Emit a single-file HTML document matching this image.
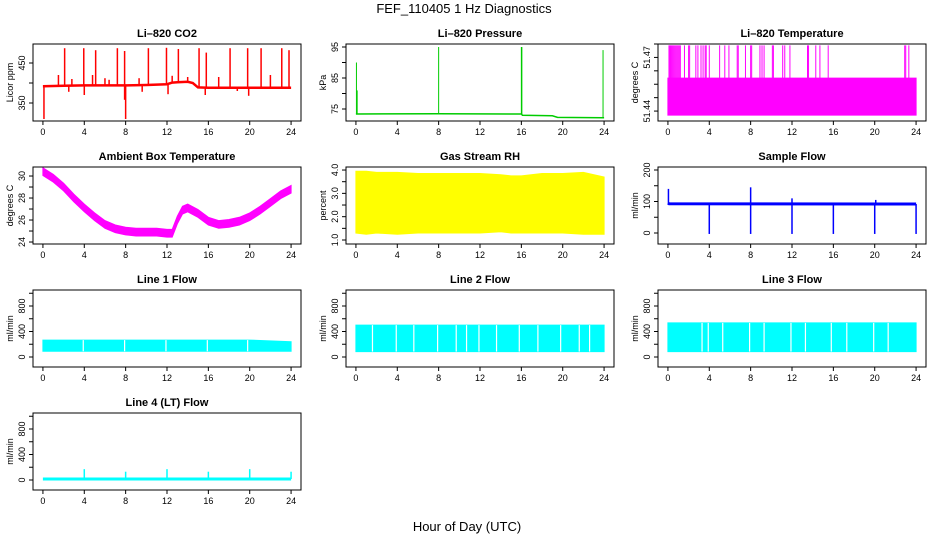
<!DOCTYPE html>
<html><head><meta charset="utf-8"><style>
html,body{margin:0;padding:0;background:#fff;}
svg{display:block;font-family:"Liberation Sans",sans-serif;}
</style></head><body>
<svg id="chart" width="936" height="540" viewBox="0 0 936 540">
<text x="464" y="13" text-anchor="middle" font-size="13">FEF_110405  1 Hz Diagnostics</text>
<text x="467" y="531" text-anchor="middle" font-size="13">Hour of Day (UTC)</text>
</svg>
<script>
// ---- data ----
const xTicks=[0,4,8,12,16,20,24];
// CO2
const co2Times=[0,2,4,6,8,10,12,12.5,13,14,14.5,15,16,18,20,22,24];
const co2Base=[392,393,394,394,394,395,397,401,402,403,400,389,388,388,388,388,388];
const co2SpikeTimes=[2.1,3.95,5.1,7.2,7.9,10.2,11.95,13.1,15.1,15.8,18.1,19.8,21.1,23.1,23.8,1.5,4.8,6.0,9.3,12.5,14.0,17.0,22.0,2.8,6.4];
const co2SpikeVals=[487,487,482,487,480,487,488,485,487,476,487,487,487,487,482,420,420,412,412,418,415,415,420,410,408];
const co2DipTimes=[0.1,8.0,7.9,4.0,19.9,15.7,2.5,12.1,9.6,18.8];
const co2DipVals=[310,310,358,370,368,370,378,372,378,380];
// Pressure
const presTimes=[0,8,16,16.1,19,19.5,24];
const presBase=[73.4,73.5,73.4,73.0,72.8,72.3,72.2];
const presSpikeTimes=[0.05,0.12,8.0,16.0,16.05,23.9];
const presSpikeVals=[90,81,95,95,95,94];
// Li-820 temperature
const tempBaseTop=51.4523;
const tempBaseBottom=51.4385;
const tempSpikeTimes=[0.1,0.2,0.3,0.4,0.5,0.6,0.7,0.8,0.9,1.0,1.1,1.2,1.6,2.0,2.1,2.7,2.9,3.2,3.4,3.6,3.7,4.0,5.0,5.5,5.9,6.7,6.8,7.5,8.0,8.1,8.9,9.1,9.3,10.1,10.2,11.1,11.3,11.8,13.5,13.6,14.3,14.7,15.5,22.9,23.0,23.3];
const tempSpikeVal=51.4645;
// Ambient box temperature
const ambTimes=[0,1,2,3,4,5,6,7,8,9,10,11,12,12.5,13,13.5,14,15,16,17,18,19,20,21,22,23,24];
const ambVals=[30.4,29.8,29.0,28.0,27.1,26.3,25.6,25.2,25.0,24.9,24.9,24.9,24.8,24.8,26.0,26.9,27.1,26.6,25.9,25.6,25.7,25.9,26.3,26.9,27.6,28.3,28.8];
// Gas stream RH
const rhTimes=[0,1,2,4,6,8,10,12,14,15,16,18,20,22,24];
const rhUpper=[3.95,3.95,3.9,3.9,3.85,3.85,3.85,3.85,3.8,3.75,3.75,3.85,3.85,3.9,3.7];
const rhLower=[1.3,1.25,1.3,1.25,1.3,1.3,1.3,1.3,1.35,1.3,1.3,1.3,1.3,1.25,1.25];
// Sample flow
const sfTimes=[0,0.1,24];
const sfBase=[95,93,92];
const sfDipTimes=[4,8,12,16,20,24];
const sfDipVals=[-3,-3,-3,-3,-3,-3];
const sfSpikeTimes=[0.05,8.0,12.0,20.1];
const sfSpikeVals=[140,145,110,105];
// Line flows
const l1Times=[0,20,24];
const l1Upper=[265,265,240];
const l1Lower=[90,90,90];
const l1Gaps=[3.9,7.9,11.9,15.9,19.8];
const l2Times=[0,24];
const l2Upper=[500,500];
const l2Lower=[85,85];
const l2Gaps=[1.6,3.9,5.6,7.9,9.7,10.7,11.9,13.6,15.8,17.6,19.8,21.6,22.6];
const l3Times=[0,24];
const l3Upper=[535,535];
const l3Lower=[85,85];
const l3Gaps=[3.3,3.9,5.3,7.9,9.3,11.9,13.3,15.8,17.3,19.9,21.3];
const l4Base=15;
const l4SpikeTimes=[4,8,12,16,20,24];
const l4SpikeVals=[170,130,170,130,170,130];

// ---- layout ----
const NS="http://www.w3.org/2000/svg";
const svg=document.getElementById('chart');
const colLeft=[33,346,658], rowTop=[44,167,290,413], BW=268, BH=77;
function el(tag,attrs,parent){const e=document.createElementNS(NS,tag);for(const k in attrs)e.setAttribute(k,attrs[k]);(parent||svg).appendChild(e);return e;}

function panel(c,r,name,title,ylab,ylo,yhi,yTicks,yLabels){
  const L=colLeft[c],T=rowTop[r];
  const g=el('g',{});
  
  
  const xs=h=>L+(h+0.96)/25.92*BW;
  const ys=v=>T+BH-(v-ylo)/(yhi-ylo)*BH;
  const t=el('text',{x:L+BW/2,y:T-7,'text-anchor':'middle','font-size':11,'font-weight':'bold'},g);
  t.textContent=title;
  
  
  const marks=el('g',{},g);
  
  
  const box=el('rect',{x:L,y:T,width:BW,height:BH,fill:'none',stroke:'#000','stroke-width':1},g);
  
  
  xTicks.forEach(h=>{
    el('line',{x1:xs(h),x2:xs(h),y1:T+BH,y2:T+BH+4,stroke:'#000'},g);
    const tl=el('text',{x:xs(h),y:T+BH+14,'text-anchor':'middle','font-size':9},g);
    tl.textContent=h;
    
    
  });
  yTicks.forEach((v,i)=>{
    el('line',{x1:L-4,x2:L,y1:ys(v),y2:ys(v),stroke:'#000'},g);
    if(yLabels[i]){
      const yl=el('text',{x:0,y:0,'text-anchor':'middle','font-size':9,transform:`translate(${L-8},${ys(v)}) rotate(-90)`},g);
      yl.textContent=yLabels[i];
      
      
    }
  });
  const ya=el('text',{x:0,y:0,'text-anchor':'middle','font-size':9,transform:`translate(${L-20},${T+BH/2}) rotate(-90)`},g);
  ya.textContent=ylab;
  
  
  return {xs,ys,g:marks};
}
function pathLine(p,times,vals,color,w,nm){
  const d=times.map((t,i)=>(i?'L':'M')+p.xs(t).toFixed(1)+','+p.ys(vals[i]).toFixed(1)).join('');
  const e=el('path',{d:d,fill:'none',stroke:color,'stroke-width':w},p.g);
  
  
}
function vbars(p,times,from,vals,color,w,nm){
  times.forEach((t,i)=>{
    const f=Array.isArray(from)?from[i]:from;
    const e=el('line',{x1:p.xs(t),x2:p.xs(t),y1:p.ys(f),y2:p.ys(vals[i]),stroke:color,'stroke-width':w},p.g);
    
    
  });
}
function band(p,times,up,lo,color,nm){
  const d=times.map((t,i)=>(i?'L':'M')+p.xs(t).toFixed(1)+','+p.ys(up[i]).toFixed(1)).join('')+
    times.slice().reverse().map((t,j)=>{const i=times.length-1-j;return 'L'+p.xs(t).toFixed(1)+','+p.ys(lo[i]).toFixed(1);}).join('')+'Z';
  const e=el('path',{d:d,fill:color,stroke:color,'stroke-width':1},p.g);
  
  
}
function interp(times,vals,t){for(let i=1;i<times.length;i++){if(t<=times[i]){const f=(t-times[i-1])/(times[i]-times[i-1]);return vals[i-1]+f*(vals[i]-vals[i-1]);}}return vals[vals.length-1];}

let p=panel(0,0,'co2','Li\u2013820 CO2','Licor ppm',305,497.5,[350,400,450],['350','','450']);
pathLine(p,co2Times,co2Base,'#f00',2.5,'co2-line');
vbars(p,co2SpikeTimes,co2SpikeTimes.map(t=>interp(co2Times,co2Base,t)),co2SpikeVals,'#f00',1.5,'co2-spike');
vbars(p,co2DipTimes,co2DipTimes.map(t=>interp(co2Times,co2Base,t)),co2DipVals,'#f00',1.5,'co2-dip');
p=panel(1,0,'pressure','Li\u2013820 Pressure','kPa',71.13,95.97,[75,80,85,90,95],['75','','85','','95']);
pathLine(p,presTimes,presBase,'#0c0',1.5,'pressure-line');
vbars(p,presSpikeTimes,presSpikeTimes.map(t=>interp(presTimes,presBase,t)),presSpikeVals,'#0c0',1,'pressure-spike');
p=panel(2,0,'li820-temperature','Li\u2013820 Temperature','degrees C',51.4363,51.465,[51.44,51.445,51.45,51.455,51.46,51.465],['51.44','','','','51.47','']);
band(p,[0,24],[tempBaseTop,tempBaseTop],[tempBaseBottom,tempBaseBottom],'#f0f','temperature-fill');
vbars(p,tempSpikeTimes,tempBaseTop,tempSpikeTimes.map(()=>tempSpikeVal),'#f0f',1,'temperature-spike');
p=panel(0,1,'ambient-temperature','Ambient Box Temperature','degrees C',23.82,30.82,[24,25,26,27,28,29,30],['24','','26','','28','','30']);
band(p,ambTimes,ambVals.map(v=>v+0.35),ambVals.map(v=>v-0.35),'#f0f','ambient-band');
p=panel(1,1,'gas-stream-rh','Gas Stream RH','percent',0.829,4.13,[1,1.5,2,2.5,3,3.5,4],['1.0','','2.0','','3.0','','4.0']);
band(p,rhTimes,rhUpper,rhLower,'#ff0','rh-band');
p=panel(2,1,'sample-flow','Sample Flow','ml/min',-34.9,209.5,[0,50,100,150,200],['0','','100','','200']);
pathLine(p,sfTimes,sfBase,'#00f',3,'sample-flow-line');
vbars(p,sfDipTimes,sfDipTimes.map(t=>interp(sfTimes,sfBase,t)),sfDipVals,'#00f',1.5,'sample-flow-dip');
vbars(p,sfSpikeTimes,sfSpikeTimes.map(t=>interp(sfTimes,sfBase,t)),sfSpikeVals,'#00f',1.5,'sample-flow-spike');
const lineTicks=[0,200,400,600,800,1000], lineLabels=['0','','400','','800',''];
function linePanel(c,r,name,title,times,up,lo,gaps){
  const q=panel(c,r,name,title,'ml/min',-157,1051,lineTicks,lineLabels);
  band(q,times,up,lo,'#0ff',name+'-band');
  vbars(q,gaps,gaps.map(t=>interp(times,lo,t)),gaps.map(t=>interp(times,up,t)),'#fff',1.2,name+'-gap');
  return q;
}
linePanel(0,2,'line1-flow','Line 1 Flow',l1Times,l1Upper,l1Lower,l1Gaps);
linePanel(1,2,'line2-flow','Line 2 Flow',l2Times,l2Upper,l2Lower,l2Gaps);
linePanel(2,2,'line3-flow','Line 3 Flow',l3Times,l3Upper,l3Lower,l3Gaps);
p=panel(0,3,'line4-flow','Line 4 (LT) Flow','ml/min',-157,1051,lineTicks,lineLabels);
pathLine(p,[0,24],[l4Base,l4Base],'#0ff',3,'line4-flow-line');
vbars(p,l4SpikeTimes,l4SpikeTimes.map(()=>l4Base),l4SpikeVals,'#0ff',1.5,'line4-flow-spike');
</script>
</body></html>
